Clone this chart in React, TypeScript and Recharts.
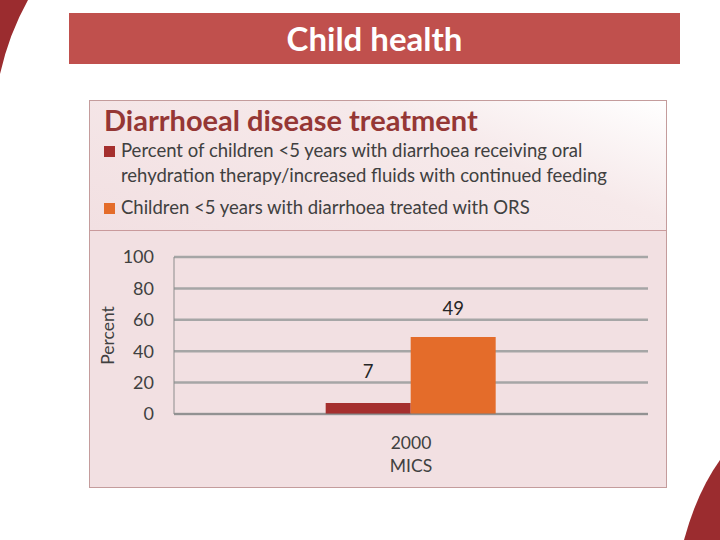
import React from 'react';
import { BarChart, Bar, XAxis, YAxis, CartesianGrid, LabelList } from 'recharts';

const pageTitle = 'Child health';
const chartTitle = 'Diarrhoeal disease treatment';
const categories = ['2000\nMICS'];
const seriesNames = [
  'Percent of children <5 years with diarrhoea receiving oral\nrehydration therapy/increased fluids with continued feeding',
  'Children <5 years with diarrhoea treated with ORS',
];
const ortValues = [7];
const orsValues = [49];
const yTicks = [0, 20, 40, 60, 80, 100];
const seriesColors = ['#a52f2e', '#e46c2a'];

const data = categories.map((c, i) => ({ category: c, ort: ortValues[i], ors: orsValues[i] }));

const FONT = 'Lato, "Noto Sans", sans-serif';

const XTick = (props: any) => {
  const { x, y, payload } = props;
  const lines = String(payload.value).split('\n');
  return (
    <g transform={`translate(${x},${y})`}>
      {lines.map((l, i) => (
        <text key={i} x={0} y={27 + i * 23} textAnchor="middle" fill="#404040" fontSize={17.5} fontFamily={FONT}>
          {l}
        </text>
      ))}
    </g>
  );
};

export default function App() {
  return (
    <div style={{ position: 'absolute', left: 0, top: 0, width: 720, height: 540, background: '#ffffff', overflow: 'hidden', fontFamily: FONT }}>
      <svg width={720} height={540} style={{ position: 'absolute', left: 0, top: 0 }}>
        <path d="M0,0 L28,0 Q9,34 0,74 Z" fill="#9b2c2f" />
        <path d="M720,460 Q697,492 684,540 L720,540 Z" fill="#9b2c2f" />
      </svg>
      <div style={{ position: 'absolute', left: 69, top: 13, width: 611, height: 51, background: '#c0504d', color: '#ffffff', fontWeight: 700, fontSize: 33, lineHeight: '51px', textAlign: 'center' }}>
        {pageTitle}
      </div>
      <div style={{ position: 'absolute', left: 89, top: 100, width: 576, height: 386, border: '1px solid #c49c9c', background: '#f2e0e2' }}>
        <div style={{ position: 'absolute', left: 0, top: 0, width: 576, height: 129, background: 'linear-gradient(200deg, #ffffff 0%, #f6e9ea 35%, #f2e0e2 100%)', borderBottom: '1.5px solid #c99a9c' }}>
          <div style={{ position: 'absolute', left: 14, top: 1, fontSize: 29, fontWeight: 700, color: '#953735', whiteSpace: 'nowrap' }}>{chartTitle}</div>
          {seriesNames.map((n, i) => (
            <div key={i} style={{ position: 'absolute', left: 14, top: i === 0 ? 37 : 94, display: 'flex', alignItems: 'flex-start' }}>
              <div style={{ width: 11, height: 11, background: seriesColors[i], marginTop: 8, marginRight: 6 }} />
              <div style={{ fontSize: 18.5, color: '#404040', lineHeight: '25px', whiteSpace: 'pre-line' }}>{n}</div>
            </div>
          ))}
        </div>
        <div style={{ position: 'absolute', left: 0, top: 130 }}>
          <BarChart width={576} height={256} data={data} margin={{ top: 26, right: 18, bottom: 0, left: 0 }} barCategoryGap="32%" barGap={0}>
            <CartesianGrid vertical={false} stroke="#a6a6a6" strokeWidth={2.5} />
            <XAxis dataKey="category" height={73} tick={<XTick />} tickLine={false} axisLine={{ stroke: '#7f7f7f', strokeWidth: 1 }} interval={0} />
            <YAxis
              width={84}
              domain={[0, 100]}
              ticks={yTicks}
              tickLine={false}
              tickSize={0}
              tickMargin={20}
              axisLine={{ stroke: '#8c8c8c', strokeWidth: 1 }}
              tick={{ fill: '#404040', fontSize: 18, fontFamily: FONT }}
              label={{ value: 'Percent', angle: -90, position: 'center', dx: -24, fill: '#404040', fontSize: 17.5, fontFamily: FONT }}
            />
            <Bar dataKey="ort" name={seriesNames[0]} fill={seriesColors[0]} isAnimationActive={false}>
              <LabelList dataKey="ort" position="top" offset={25} fill="#262626" fontSize={18.5} fontFamily={FONT} />
            </Bar>
            <Bar dataKey="ors" name={seriesNames[1]} fill={seriesColors[1]} isAnimationActive={false}>
              <LabelList dataKey="ors" position="top" offset={22} fill="#262626" fontSize={18.5} fontFamily={FONT} />
            </Bar>
          </BarChart>
        </div>
      </div>
    </div>
  );
}
